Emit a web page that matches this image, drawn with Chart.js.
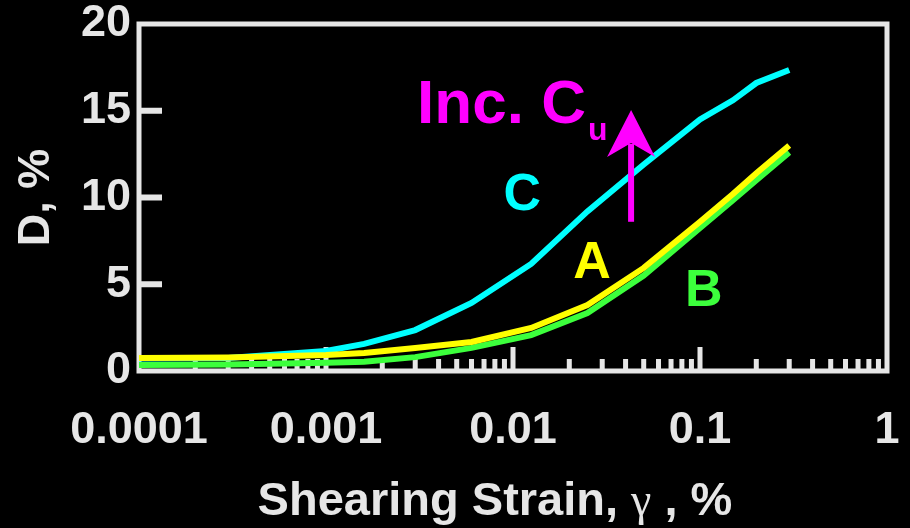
<!DOCTYPE html>
<html>
<head>
<meta charset="utf-8">
<script src="https://cdn.jsdelivr.net/npm/chart.js@4.4.1/dist/chart.umd.min.js"></script>
<style>
    html, body { margin: 0; padding: 0; background: #000; }
    #wrap { width: 910px; height: 528px; position: relative; }
</style>
</head>
<body>
<div id="wrap"><canvas id="graph"></canvas></div>
<script>
/********
 * Data *
 ********/
const strain = [0.0001, 0.0003, 0.001, 0.0016, 0.003, 0.006, 0.0125, 0.025, 0.05, 0.1, 0.15, 0.2, 0.3];
const dampingA = [0.75, 0.78, 0.92, 1.04, 1.33, 1.67, 2.48, 3.8, 5.94, 8.6, 10.2, 11.4, 13.0];
const dampingB = [0.35, 0.37, 0.48, 0.54, 0.8, 1.33, 2.07, 3.34, 5.5, 8.25, 9.85, 11.0, 12.6];
const dampingC = [0.72, 0.75, 1.15, 1.56, 2.36, 3.92, 6.17, 9.2, 11.9, 14.5, 15.6, 16.6, 17.35];

const xTickValues = [0.0001, 0.001, 0.01, 0.1, 1];
const xTickLabels = ['0.0001', '0.001', '0.01', '0.1', '1'];
const yTickValues = [0, 5, 10, 15, 20];
const yTickLabels = ['0', '5', '10', '15', '20'];

// x axis title, in three pieces (the gamma is set in a serif face)
const xTitleParts = ['Shearing Strain, ', 'γ', ' , %'];
const yTitle = 'D, %';

// curve labels: [text, strain, D (baseline), colour]
const curveLabels = [
    ['C', 0.0112, 9.28, '#00ffff'],
    ['A', 0.0265, 5.36, '#ffff00'],
    ['B', 0.1047, 3.75, '#3cff3c']
];
const trendText = 'Inc. C';
const trendSub = 'u';
const trendAt = [0.00307, 14.29];
const arrowX = 0.0428;
const arrowFrom = 8.6;
const arrowTo = 15.05;

/*********
 * Style *
 *********/
const axisColor = '#e6e6e6';
const magenta = '#ff00ff';
const fontFamily = '"Liberation Sans", Arial, sans-serif';

function toPoints(values) {
    return values.map((v, i) => ({x: strain[i], y: v}));
}

function makeLine(values, color) {
    return {
        data: toPoints(values),
        borderColor: color,
        borderWidth: 6,
        pointRadius: 0,
        tension: 0,
        fill: false,
        clip: false
    };
}

/**
 * Frame, inside ticks, x title and annotations.
 */
const framePlugin = {
    id: 'frame',
    beforeDatasetsDraw(chart) {
        const {ctx, chartArea: a, scales} = chart;
        ctx.save();
        ctx.strokeStyle = axisColor;
        ctx.lineWidth = 5;
        ctx.strokeRect(a.left, a.top, a.right - a.left, a.bottom - a.top);

        // x ticks, pointing inward from the bottom
        ctx.beginPath();
        for (let e = -4; e < 0; ++e) {
            for (let k = 1; k <= 9; ++k) {
                if (k === 1 && e === -4) continue;
                const px = scales.x.getPixelForValue(k * Math.pow(10, e));
                const len = k === 1 ? 24 : 12;
                ctx.moveTo(px, a.bottom);
                ctx.lineTo(px, a.bottom - len);
            }
        }
        ctx.stroke();

        // y ticks, pointing inward from the left
        ctx.lineWidth = 6;
        ctx.beginPath();
        yTickValues.slice(1, -1).forEach(v => {
            const py = scales.y.getPixelForValue(v);
            ctx.moveTo(a.left, py);
            ctx.lineTo(a.left + 23, py);
        });
        ctx.stroke();

        // x title
        const fonts = [
            `bold 47px ${fontFamily}`,
            '46px "Liberation Serif", "Times New Roman", serif',
            `bold 47px ${fontFamily}`
        ];
        const widths = xTitleParts.map((t, i) => {
            ctx.font = fonts[i];
            return ctx.measureText(t).width;
        });
        const total = widths.reduce((s, w) => s + w, 0);
        let x = (a.left + a.right) / 2 - 18 - total / 2;
        ctx.fillStyle = axisColor;
        ctx.textAlign = 'left';
        ctx.textBaseline = 'alphabetic';
        xTitleParts.forEach((t, i) => {
            ctx.font = fonts[i];
            ctx.fillText(t, x, 515);
            x += widths[i];
        });
        ctx.restore();
    },
    afterDatasetsDraw(chart) {
        const {ctx, scales} = chart;
        const sx = scales.x, sy = scales.y;
        ctx.save();

        curveLabels.forEach(([text, xv, yv, color]) => {
            ctx.font = `bold 52px ${fontFamily}`;
            ctx.fillStyle = color;
            ctx.textAlign = 'center';
            ctx.textBaseline = 'alphabetic';
            ctx.fillText(text, sx.getPixelForValue(xv), sy.getPixelForValue(yv));
        });

        // "Inc. Cu"
        const tx = sx.getPixelForValue(trendAt[0]);
        const ty = sy.getPixelForValue(trendAt[1]);
        ctx.fillStyle = magenta;
        ctx.textAlign = 'left';
        ctx.font = `bold 62px ${fontFamily}`;
        ctx.fillText(trendText, tx, ty);
        const w = ctx.measureText(trendText).width;
        ctx.font = `bold 32px ${fontFamily}`;
        ctx.fillText(trendSub, tx + w + 2, ty + 17);

        // arrow
        const ax = sx.getPixelForValue(arrowX);
        const y0 = sy.getPixelForValue(arrowFrom);
        const y1 = sy.getPixelForValue(arrowTo);
        ctx.strokeStyle = magenta;
        ctx.lineWidth = 6;
        ctx.beginPath();
        ctx.moveTo(ax, y0);
        ctx.lineTo(ax, y1 + 34);
        ctx.stroke();
        ctx.beginPath();
        ctx.moveTo(ax, y1);
        ctx.lineTo(ax + 24, y1 + 47);
        ctx.lineTo(ax, y1 + 33);
        ctx.lineTo(ax - 24, y1 + 47);
        ctx.closePath();
        ctx.fill();
        ctx.restore();
    }
};

const context = document.getElementById('graph').getContext('2d');
new Chart(context, {
    type: 'line',
    data: {
        datasets: [
            makeLine(dampingA, '#ffff00'),
            makeLine(dampingB, '#3cff3c'),
            makeLine(dampingC, '#00ffff')
        ]
    },
    options: {
        responsive: true,
        maintainAspectRatio: false,
        animation: false,
        layout: {padding: {top: 24, right: 23, left: 0, bottom: 0}},
        plugins: {
            legend: {display: false},
            tooltip: {enabled: false}
        },
        scales: {
            x: {
                type: 'logarithmic',
                min: 0.0001,
                max: 1,
                grid: {display: false, drawTicks: false},
                border: {display: false},
                afterBuildTicks: scale => {
                    scale.ticks = xTickValues.map(v => ({value: v}));
                },
                afterFit: scale => {
                    scale.height = 157;
                    scale.paddingLeft = 0;
                    scale.paddingRight = 0;
                },
                ticks: {
                    color: axisColor,
                    font: {family: fontFamily, size: 45, weight: 'bold'},
                    padding: 33,
                    maxRotation: 0,
                    autoSkip: false,
                    callback: (value, index) => xTickLabels[index]
                },
                title: {display: false}
            },
            y: {
                min: 0,
                max: 20,
                grid: {display: false, drawTicks: false},
                border: {display: false},
                afterBuildTicks: scale => {
                    scale.ticks = yTickValues.map(v => ({value: v}));
                },
                afterFit: scale => {
                    scale.width = 139;
                    scale.paddingTop = 0;
                    scale.paddingBottom = 0;
                },
                ticks: {
                    color: axisColor,
                    font: {family: fontFamily, size: 45, weight: 'bold'},
                    padding: 8,
                    callback: (value, index) => yTickLabels[index]
                },
                title: {
                    display: true,
                    text: yTitle,
                    color: axisColor,
                    font: {family: fontFamily, size: 45, weight: 'bold'},
                    padding: {top: 10, bottom: 0}
                }
            }
        }
    },
    plugins: [framePlugin]
});
</script>
</body>
</html>
